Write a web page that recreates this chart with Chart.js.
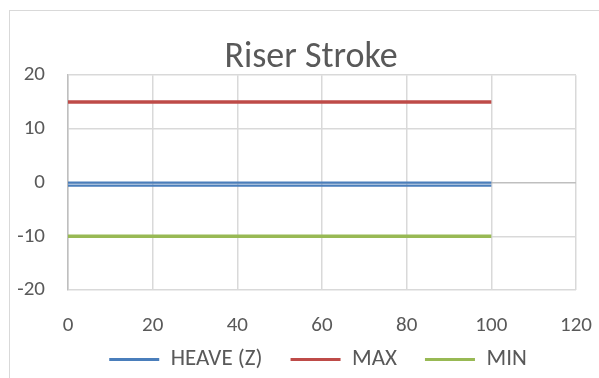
<!DOCTYPE html>
<html>
<head>
<meta charset="utf-8">
<script src="https://cdn.jsdelivr.net/npm/chart.js@4/dist/chart.umd.min.js"></script>
<style>
  html, body { margin: 0; padding: 0; background: #ffffff; overflow: hidden; }
  #wrap { position: relative; width: 599px; height: 378px; }
  #frame { position: absolute; left: 9px; top: 10px; width: 700px; height: 500px;
           border: 1px solid #d9d9d9; box-sizing: border-box; }
  canvas { position: absolute; left: 0; top: 0; }
</style>
</head>
<body>
<div id="wrap">
  <div id="frame"></div>
  <canvas id="chart" width="599" height="378"></canvas>
</div>
<script>
// Riser stroke: heave trace and the stroke limits
const heaveX = [0, 100, 100, 0, 100];
const heaveY = [0, 0, null, -0.55, -0.55];
const maxX = [0, 100];
const maxY = [15, 15];
const minX = [0, 100];
const minY = [-10, -10];
const seriesNames = ['HEAVE (Z)', 'MAX', 'MIN'];
const xTicks = [0, 20, 40, 60, 80, 100, 120];
const yTicks = [-20, -10, 0, 10, 20];

const FONT = 'Carlito, Lato, "Open Sans", sans-serif';
const TEXT = '#595959';

const pts = (xs, ys) => xs.map((x, i) => ({ x: x, y: ys[i] }));

// Nudge title and legend so they sit over the plot, legend tucked under the ticks
const placeBlocks = {
  id: 'placeBlocks',
  afterLayout(chart) {
    const t = chart.titleBlock;
    if (t) { t.left += 18; t.right += 18; }
    const l = chart.legend;
    if (l) { l.left += 25; l.right += 25; l.top -= 15; l.bottom -= 15; }
  }
};

new Chart(document.getElementById('chart'), {
  type: 'line',
  data: {
    datasets: [
      { label: seriesNames[0], data: pts(heaveX, heaveY), borderColor: '#4a7ebb', backgroundColor: '#4a7ebb', borderWidth: 2.2 },
      { label: seriesNames[1], data: pts(maxX, maxY), borderColor: '#be4b48', backgroundColor: '#be4b48', borderWidth: 3.4 },
      { label: seriesNames[2], data: pts(minX, minY), borderColor: '#98b954', backgroundColor: '#98b954', borderWidth: 3.4 }
    ]
  },
  plugins: [placeBlocks],
  options: {
    responsive: false,
    animation: false,
    devicePixelRatio: 1,
    spanGaps: false,
    elements: {
      point: { radius: 0, hoverRadius: 0 },
      line: { tension: 0, borderCapStyle: 'butt' }
    },
    layout: { padding: { top: 36, left: 10, right: 23, bottom: -18 } },
    plugins: {
      tooltip: { enabled: false },
      title: {
        display: true,
        text: 'Riser Stroke',
        color: TEXT,
        font: { family: FONT, size: 36, weight: 'normal' },
        padding: { top: 0, bottom: -4 }
      },
      legend: {
        position: 'bottom',
        labels: {
          color: TEXT,
          font: { family: FONT, size: 23 },
          boxWidth: 50,
          boxHeight: 3,
          padding: 28,
          generateLabels(chart) {
            return chart.data.datasets.map((ds, i) => ({
              text: ds.label,
              fillStyle: ds.borderColor,
              strokeStyle: ds.borderColor,
              lineWidth: 0,
              hidden: false,
              datasetIndex: i,
              fontColor: TEXT
            }));
          }
        }
      }
    },
    scales: {
      x: {
        type: 'linear',
        min: xTicks[0],
        max: xTicks[xTicks.length - 1],
        afterBuildTicks(scale) { scale.ticks = xTicks.map(v => ({ value: v })); },
        afterFit(scale) { scale.height = 45; scale.paddingLeft = 0; scale.paddingRight = 0; },
        border: { display: false },
        grid: { color: '#d9d9d9', lineWidth: 1.5, drawTicks: false },
        ticks: { color: TEXT, font: { family: FONT, size: 21 }, padding: 23, maxRotation: 0 }
      },
      y: {
        min: yTicks[0],
        max: yTicks[yTicks.length - 1],
        afterBuildTicks(scale) { scale.ticks = yTicks.map(v => ({ value: v })); },
        afterFit(scale) { scale.width = 58; scale.paddingTop = 0; scale.paddingBottom = 0; },
        border: { display: true, color: '#bfbfbf', width: 1.5 },
        grid: {
          color: ctx => (ctx.tick && ctx.tick.value === 0) ? '#bfbfbf' : '#d9d9d9',
          lineWidth: 1.5,
          drawTicks: false
        },
        ticks: { color: TEXT, font: { family: FONT, size: 21 }, padding: 23 }
      }
    }
  }
});
</script>
</body>
</html>
